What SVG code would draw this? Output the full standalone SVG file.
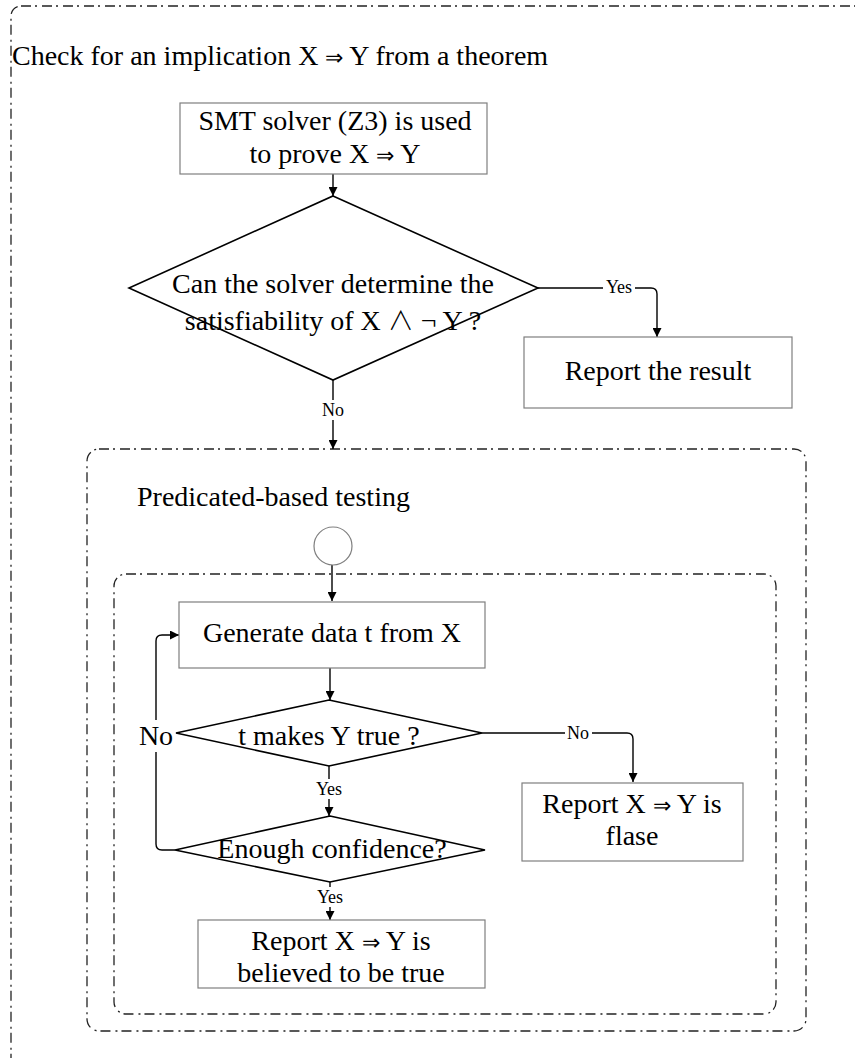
<svg xmlns="http://www.w3.org/2000/svg" width="855" height="1058" viewBox="0 0 855 1058">
  <style>
    text { font-family: "Liberation Serif", "DejaVu Serif", serif; fill: #000; }
    .t { font-size: 28px; text-anchor: middle; }
    .lbl { font-size: 18px; text-anchor: middle; }
    .sym { font-family: "DejaVu Sans", "Liberation Serif", sans-serif; font-weight: 200; font-size: 22px; }
    .wedge { font-family: "Noto Sans CJK SC", "DejaVu Sans", sans-serif; font-weight: 300; font-size: 26px; }
    .box { fill: #fff; stroke: #7f7f7f; stroke-width: 1.2; }
    .dia { fill: #fff; stroke: #000; stroke-width: 1.6; }
    .frame { fill: none; stroke: #222; stroke-width: 1.3; stroke-dasharray: 10 4 2 5; }
    .edge { fill: none; stroke: #000; stroke-width: 1.4; }
    .bg { fill: #fff; }
  </style>
  <defs>
    <marker id="arrow" viewBox="0 0 10 10" refX="10" refY="5" markerWidth="9" markerHeight="9" markerUnits="userSpaceOnUse" orient="auto">
      <path d="M0,0 L10,5 L0,10 z" fill="#000"/>
    </marker>
  </defs>

  <rect width="855" height="1058" fill="#fff"/>

  <!-- dash-dot frames -->
  <g id="frames">
    <rect class="frame" x="11" y="6" width="900" height="1100" rx="10"/>
    <rect class="frame" x="87" y="449" width="719" height="582" rx="12"/>
    <rect class="frame" x="114" y="574" width="662" height="440" rx="12"/>
  </g>

  <g id="title">
    <text x="12" y="65" style="font-size:28px">Check for an implication X <tspan class="sym">⇒</tspan> Y from a theorem</text>
  </g>
  <g id="section-title">
    <text x="137" y="506" style="font-size:28px">Predicated-based testing</text>
  </g>

  <!-- connectors -->
  <g id="connectors">
    <line class="edge" x1="333" y1="174" x2="333" y2="196" marker-end="url(#arrow)"/>
    <path class="edge" d="M538,288 H651 Q657,288 657,294 V337" marker-end="url(#arrow)"/>
    <line class="edge" x1="333" y1="380" x2="333" y2="449" marker-end="url(#arrow)"/>
    <line class="edge" x1="332" y1="565" x2="332" y2="601" marker-end="url(#arrow)"/>
    <line class="edge" x1="330" y1="668" x2="330" y2="700" marker-end="url(#arrow)"/>
    <path class="edge" d="M482,733 H627 Q633,733 633,739 V782" marker-end="url(#arrow)"/>
    <line class="edge" x1="329" y1="766" x2="329" y2="816" marker-end="url(#arrow)"/>
    <path class="edge" d="M175,850 H162 Q156,850 156,844 V641 Q156,635 162,635 H179" marker-end="url(#arrow)"/>
    <line class="edge" x1="330" y1="882" x2="330" y2="920" marker-end="url(#arrow)"/>
    <!-- edge labels -->
    <rect class="bg" x="603" y="278" width="32" height="18"/>
    <text class="lbl" x="619" y="293">Yes</text>
    <rect class="bg" x="321" y="400" width="24" height="20"/>
    <text class="lbl" x="333" y="416">No</text>
    <rect class="bg" x="565" y="724" width="27" height="18"/>
    <text class="lbl" x="578" y="739">No</text>
    <rect class="bg" x="315" y="779" width="30" height="20"/>
    <text class="lbl" x="329" y="795">Yes</text>
    <rect class="bg" x="315" y="887" width="30" height="20"/>
    <text class="lbl" x="330" y="903">Yes</text>
    <rect class="bg" x="136" y="720" width="40" height="32"/>
    <text class="t" x="156" y="745">No</text>
  </g>

  <g id="smt">
    <rect class="box" x="180" y="103" width="307" height="71"/>
    <text class="t" x="335" y="130">SMT solver (Z3) is used</text>
    <text class="t" x="335" y="163">to prove X <tspan class="sym">⇒</tspan> Y</text>
  </g>

  <g id="can-determine">
    <polygon class="dia" points="333,196 538,288 333,380 129,288"/>
    <text class="t" x="333" y="293">Can the solver determine the</text>
    <text class="t" x="333" y="330">satisfiability of X <tspan class="wedge">∧</tspan> ¬ Y  ?</text>
  </g>

  <g id="report-result">
    <rect class="box" x="524" y="337" width="268" height="71"/>
    <text class="t" x="658" y="380">Report the result</text>
  </g>

  <g id="start">
    <circle cx="333" cy="546" r="19" fill="#fff" stroke="#7f7f7f" stroke-width="1.2"/>
  </g>

  <g id="generate">
    <rect class="box" x="179" y="602" width="306" height="66"/>
    <text class="t" x="332" y="642">Generate data t from X</text>
  </g>

  <g id="makes-true">
    <polygon class="dia" points="329,700 482,733 329,766 176,733"/>
    <text class="t" x="329" y="745">t makes Y true ?</text>
  </g>

  <g id="report-false">
    <rect class="box" x="522" y="783" width="221" height="78"/>
    <text class="t" x="632" y="813">Report X <tspan class="sym">⇒</tspan> Y is</text>
    <text class="t" x="632" y="845">flase</text>
  </g>

  <g id="confidence">
    <polygon class="dia" points="330,816 485,850 330,882 175,850"/>
    <text class="t" x="332" y="858">Enough confidence?</text>
  </g>

  <g id="report-true">
    <rect class="box" x="198" y="920" width="287" height="68"/>
    <text class="t" x="341" y="950">Report X <tspan class="sym">⇒</tspan> Y is</text>
    <text class="t" x="341" y="982">believed to be true</text>
  </g>
</svg>
